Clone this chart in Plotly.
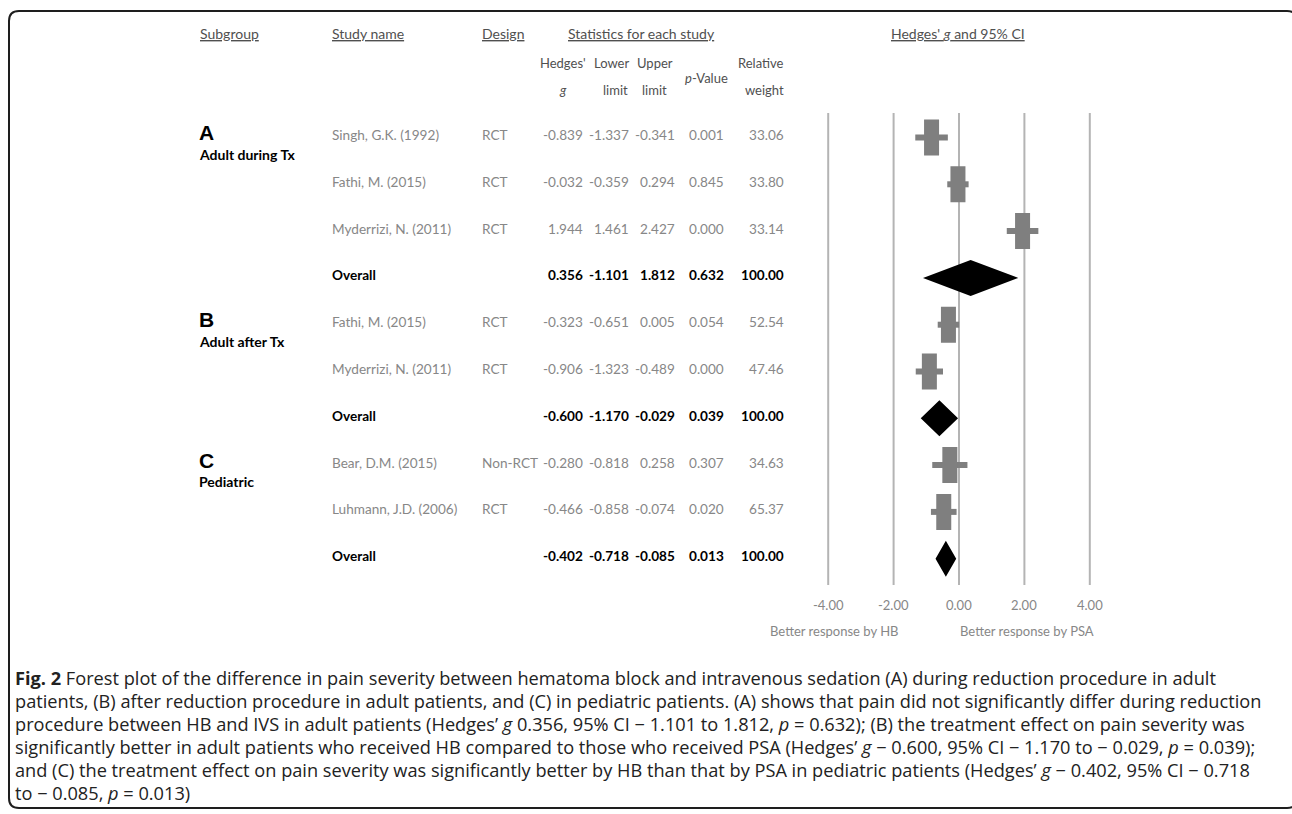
import plotly.graph_objects as go

# ---------------- data ----------------
subgroup_letters = ["A", "B", "C"]
subgroup_labels = ["Adult during Tx", "Adult after Tx", "Pediatric"]
subgroup_first_row = [0, 4, 7]

studies = ["Singh, G.K. (1992)", "Fathi, M. (2015)", "Myderrizi, N. (2011)", "Overall",
           "Fathi, M. (2015)", "Myderrizi, N. (2011)", "Overall",
           "Bear, D.M. (2015)", "Luhmann, J.D. (2006)", "Overall"]
designs = ["RCT", "RCT", "RCT", "", "RCT", "RCT", "", "Non-RCT", "RCT", ""]
hedges_g = [-0.839, -0.032, 1.944, 0.356, -0.323, -0.906, -0.600, -0.280, -0.466, -0.402]
lower_limit = [-1.337, -0.359, 1.461, -1.101, -0.651, -1.323, -1.170, -0.818, -0.858, -0.718]
upper_limit = [-0.341, 0.294, 2.427, 1.812, 0.005, -0.489, -0.029, 0.258, -0.074, -0.085]
p_values = [0.001, 0.845, 0.000, 0.632, 0.054, 0.000, 0.039, 0.307, 0.020, 0.013]
rel_weight = [33.06, 33.80, 33.14, 100.00, 52.54, 47.46, 100.00, 34.63, 65.37, 100.00]
is_overall = [False, False, False, True, False, False, True, False, False, True]

tick_values = [-4.0, -2.0, 0.0, 2.0, 4.0]
direction_labels = ["Better response by HB", "Better response by PSA"]

caption_lines = [
    "<b>Fig. 2</b> Forest plot of the difference in pain severity between hematoma block and intravenous sedation (A) during reduction procedure in adult",
    "patients, (B) after reduction procedure in adult patients, and (C) in pediatric patients. (A) shows that pain did not significantly differ during reduction",
    "procedure between HB and IVS in adult patients (Hedges\u2019 <i>g</i> 0.356, 95% CI \u2212 1.101 to 1.812, <i>p</i> = 0.632); (B) the treatment effect on pain severity was",
    "significantly better in adult patients who received HB compared to those who received PSA (Hedges\u2019 <i>g</i> \u2212 0.600, 95% CI \u2212 1.170 to \u2212 0.029, <i>p</i> = 0.039);",
    "and (C) the treatment effect on pain severity was significantly better by HB than that by PSA in pediatric patients (Hedges\u2019 <i>g</i> \u2212 0.402, 95% CI \u2212 0.718",
    "to \u2212 0.085, <i>p</i> = 0.013)",
]

# ---------------- geometry ----------------
W, H = 1292, 814
X0_PX = 959.0          # pixel of g = 0
PX_PER_UNIT = 32.7     # pixels per unit of g
ROW0_PX = 137.5        # pixel of first row centre
ROW_PX = 46.8          # pixels per row

def pxx(px):
    return px / W

def pxy(py):
    return 1 - py / H

def row_of_px(py):
    return (py - ROW0_PX) / ROW_PX

x_range = [(0 - X0_PX) / PX_PER_UNIT, (W - X0_PX) / PX_PER_UNIT]
y_range = [(H - ROW0_PX) / ROW_PX, (0 - ROW0_PX) / ROW_PX]

GRAY = "#7f7f7f"
GRID = "#b4b4b4"
TEXT_GRAY = "#878787"
HEAD_GRAY = "#505050"
TFONT = "Lato, 'Open Sans', sans-serif"
BODY = 13.6

rows = list(range(len(studies)))
fig = go.Figure()

# gridlines
gx, gy = [], []
for t in tick_values:
    gx += [t, t, None]
    gy += [row_of_px(113), row_of_px(585), None]
fig.add_trace(go.Scatter(x=gx, y=gy, mode="lines", line=dict(color=GRID, width=2),
                         hoverinfo="skip", showlegend=False))

# confidence intervals for the studies
cx, cy = [], []
for r in rows:
    if not is_overall[r]:
        cx += [lower_limit[r], upper_limit[r], None]
        cy += [r, r, None]
fig.add_trace(go.Scatter(x=cx, y=cy, mode="lines", line=dict(color=GRAY, width=6),
                         hoverinfo="skip", showlegend=False))

# study boxes
hw = 7.5 / PX_PER_UNIT
hh = 18.0 / ROW_PX
sx, sy = [], []
for r in rows:
    if not is_overall[r]:
        g = hedges_g[r]
        sx += [g - hw, g + hw, g + hw, g - hw, g - hw, None]
        sy += [r - hh, r - hh, r + hh, r + hh, r - hh, None]
fig.add_trace(go.Scatter(x=sx, y=sy, mode="lines", fill="toself", fillcolor=GRAY,
                         line=dict(width=0, color=GRAY), hoverinfo="skip", showlegend=False))

# overall diamonds
dx, dy = [], []
for r in rows:
    if is_overall[r]:
        dx += [lower_limit[r], hedges_g[r], upper_limit[r], hedges_g[r], lower_limit[r], None]
        dy += [r, r - hh, r, r + hh, r, None]
fig.add_trace(go.Scatter(x=dx, y=dy, mode="lines", fill="toself", fillcolor="black",
                         line=dict(width=0, color="black"), hoverinfo="skip", showlegend=False))

annotations = []

def ann(text, x, y, xanchor="left", size=BODY, color=TEXT_GRAY, family=TFONT,
        xref="paper", yref="paper", yshift=0):
    annotations.append(dict(text=text, x=x, y=y, xref=xref, yref=yref, xanchor=xanchor,
                            yanchor="middle", showarrow=False, yshift=yshift,
                            font=dict(size=size, color=color, family=family)))

# headers
HEAD_Y = pxy(33)
ann("<u>Subgroup</u>", pxx(198), HEAD_Y, size=14, color=HEAD_GRAY)
ann("<u>Study name</u>", pxx(329.5), HEAD_Y, size=14, color=HEAD_GRAY)
ann("<u>Design</u>", pxx(480.4), HEAD_Y, size=14, color=HEAD_GRAY)
ann("<u>Statistics for each study</u>", pxx(641.5), HEAD_Y, xanchor="center", size=14, color=HEAD_GRAY)
ann("<u>Hedges' <i>g</i> and 95% CI</u>", pxx(958), HEAD_Y, xanchor="center", size=14, color=HEAD_GRAY)

SUB1, SUB2, SUBM = pxy(63), pxy(90), pxy(78)
SS = 13
ann("Hedges'", pxx(562.5), SUB1, xanchor="center", size=SS, color=HEAD_GRAY)
ann("<i>g</i>", pxx(562.5), SUB2, xanchor="center", size=SS, color=HEAD_GRAY)
ann("Lower", pxx(631), SUB1, xanchor="right", size=SS, color=HEAD_GRAY)
ann("limit", pxx(630), SUB2, xanchor="right", size=SS, color=HEAD_GRAY)
ann("Upper", pxx(634.5), SUB1, xanchor="left", size=SS, color=HEAD_GRAY)
ann("limit", pxx(640), SUB2, xanchor="left", size=SS, color=HEAD_GRAY)
ann("<i>p</i>-Value", pxx(706.7), SUBM, xanchor="center", size=SS, color=HEAD_GRAY)
ann("Relative", pxx(786.4), SUB1, xanchor="right", size=SS, color=HEAD_GRAY)
ann("weight", pxx(786.4), SUB2, xanchor="right", size=SS, color=HEAD_GRAY)

# subgroup labels
for letter, label, r in zip(subgroup_letters, subgroup_labels, subgroup_first_row):
    ann("<b>%s</b>" % letter, pxx(197), r, size=21, color="black",
        family="'Liberation Sans', Arial, sans-serif", yref="y", yshift=5)
    ann("<b>%s</b>" % label, pxx(197), r, size=14, color="black", yref="y", yshift=-16.5)

# table rows
COLS = [585.3, 631.0, 676.5, 726.3, 786.4]
for r in rows:
    bold = is_overall[r]
    col = "black" if bold else TEXT_GRAY
    wrap = (lambda s: "<b>%s</b>" % s) if bold else (lambda s: s)
    ann(wrap(studies[r]), pxx(329.5), r, color=col, yref="y", yshift=2.5)
    if designs[r]:
        ann(wrap(designs[r]), pxx(480.4), r, color=col, yref="y", yshift=2.5)
    vals = ["%.3f" % hedges_g[r], "%.3f" % lower_limit[r], "%.3f" % upper_limit[r],
            "%.3f" % p_values[r], "%.2f" % rel_weight[r]]
    for v, cxp in zip(vals, COLS):
        ann(wrap(v), pxx(cxp), r, xanchor="right", color=col, yref="y", yshift=2.5)

# tick labels
for t in tick_values:
    ann("%.2f" % t, t, pxy(605), xanchor="center", size=13, color=TEXT_GRAY, xref="x")
ann(direction_labels[0], pxx(900), pxy(631), xanchor="right", size=13, color=TEXT_GRAY)
ann(direction_labels[1], pxx(958), pxy(631), xanchor="left", size=13, color=TEXT_GRAY)

# caption
cap_y = [678, 701, 724, 747, 770, 793]
for line, yy in zip(caption_lines, cap_y):
    ann(line, pxx(12.5), pxy(yy), size=18.2, color="#222222",
        family="'Open Sans', 'Noto Sans', sans-serif")

# frame with rounded corners (right side lies just outside the picture)
xl, xr, yt, yb = 9, 1297, 11, 808
rad = 10
frame = ("M {a},{b} L {a},{c} Q {a},{d} {e},{d} L {f},{d} Q {g},{d} {g},{c} "
         "L {g},{b} Q {g},{h} {f},{h} L {e},{h} Q {a},{h} {a},{b} Z").format(
    a=pxx(xl), b=pxy(yb - rad), c=pxy(yt + rad), d=pxy(yt), e=pxx(xl + rad),
    f=pxx(xr - rad), g=pxx(xr), h=pxy(yb))

fig.update_layout(
    width=W, height=H, margin=dict(l=0, r=0, t=0, b=0),
    paper_bgcolor="white", plot_bgcolor="white",
    xaxis=dict(range=x_range, visible=False, fixedrange=True),
    yaxis=dict(range=y_range, visible=False, fixedrange=True),
    annotations=annotations,
    shapes=[dict(type="path", path=frame, xref="paper", yref="paper",
                 line=dict(color="#1e1e1e", width=2), layer="above")],
    showlegend=False,
)

fig.write_html("out.html", config={"displayModeBar": False},
               post_script="document.body.style.margin='0';document.body.style.overflow='hidden';")
